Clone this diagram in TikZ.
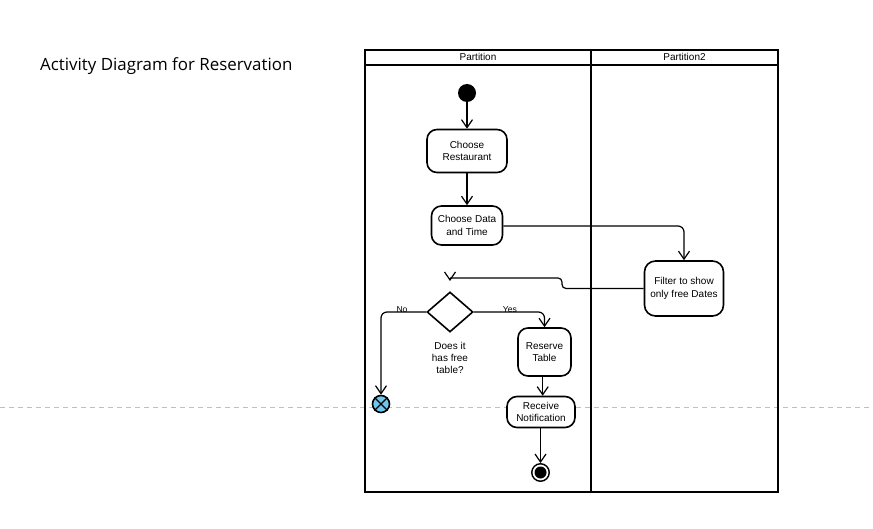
\documentclass[tikz,border=0pt]{standalone}
\usepackage{fontspec}
\setmainfont{Liberation Sans}
\newfontfamily\titlefont{Open Sans}
\usetikzlibrary{shapes.geometric,arrows.meta,calc,backgrounds}
\definecolor{xblue}{RGB}{110,200,238}
\tikzset{
  act/.style={draw, line width=1.6pt, rounded corners=10pt, fill=white, align=center,
    font=\fontsize{10}{12.5}\selectfont, inner sep=0pt},
  edge/.style={line width=1.2pt, rounded corners=6pt},
  arr/.style={edge, -{Straight Barb[length=8pt,width=11pt,line width=1.2pt]}},
  lane/.style={line width=1.8pt},
  lbl/.style={font=\fontsize{8.6}{9}\selectfont, inner sep=0pt},
  hdr/.style={font=\fontsize{10}{12}\selectfont, inner sep=0pt}
}
\begin{document}
\begin{tikzpicture}[x=1pt,y=-1pt]
\useasboundingbox (0,0) rectangle (873,529);
% page-break guide
\draw[color=black!25, line width=1pt, dash pattern=on 5pt off 4pt] (0,407) -- (873,407);
% title
\node[anchor=base west, inner sep=0pt, font=\titlefont\fontsize{16.9}{18}\selectfont, text=black] (title) at (40,71) {Activity Diagram for Reservation};
% swimlanes
\draw[lane] (365,50) rectangle (778,492);
\draw[lane] (365,65) -- (778,65);
\draw[lane] (591,50) -- (591,492);
\node[hdr] (p1) at (478,57) {Partition};
\node[hdr] (p2) at (684.5,57) {Partition2};
% nodes
\node[circle, fill=black, minimum size=18pt, inner sep=0pt] (start) at (467,93) {};
\node[act, minimum width=80pt, minimum height=43pt] (cr) at (467,151) {Choose\\Restaurant};
\node[act, minimum width=71pt, minimum height=39pt] (cd) at (467,225.5) {Choose Data\\and Time};
\node[act, minimum width=79pt, minimum height=55pt, rounded corners=11pt] (filt) at (684,288.5) {Filter to show\\only free Dates};
\node[diamond, draw, line width=1.6pt, fill=white, minimum width=46pt, minimum height=40pt, inner sep=0pt, aspect=1.15] (dec) at (450,312) {};
\node[align=center, font=\fontsize{10}{12}\selectfont, inner sep=0pt] (declbl) at (450,358) {Does it\\has free\\table?};
\node[act, minimum width=53pt, minimum height=48pt] (rt) at (544.5,352) {Reserve\\Table};
\node[act, minimum width=68pt, minimum height=31pt] (rn) at (541,412) {Receive\\Notification};
\node[circle, draw, line width=1.6pt, fill=xblue, minimum size=17pt, inner sep=0pt] (xend) at (381,404) {};
\draw[line width=1.3pt] (xend.north east) -- (xend.south west) (xend.north west) -- (xend.south east);
\node[circle, draw, line width=1.4pt, fill=white, minimum size=17.5pt, inner sep=0pt] (fin) at (540.5,472.5) {};
\node[circle, fill=black, minimum size=12pt, inner sep=0pt] (finin) at (fin) {};
% connectors
\coordinate (c1) at (684,226);
\coordinate (c2) at (562,288.5);
\coordinate (c3) at (562,278);
\coordinate (c4) at (450,278);
\coordinate (c5) at (450,281);
\coordinate (c6) at (381,312);
\coordinate (c7) at (544.5,312);
\draw[arr] (start) -- (cr);
\draw[arr] (cr) -- (cd);
\draw[arr] (cd.east |- c1) -- (c1) -- (filt.north);
\draw[edge, rounded corners=4pt] (filt.west) -- (c2) -- (c3) -- (c4);
\draw[arr, rounded corners=0pt] (c4) -- (c5);
\draw[arr] (dec.west) -- (c6) -- (xend.north);
\draw[arr] (dec.east) -- (c7) -- (rt.north);
\draw[arr] (rt.south -| 542.7,0) -- (rn.north -| 542.7,0);
\draw[arr] (rn.south -| fin) -- (fin.north);
\node[lbl] (no) at (402,310) {No};
\node[lbl] (yes) at (510,310) {Yes};
\end{tikzpicture}
\end{document}
